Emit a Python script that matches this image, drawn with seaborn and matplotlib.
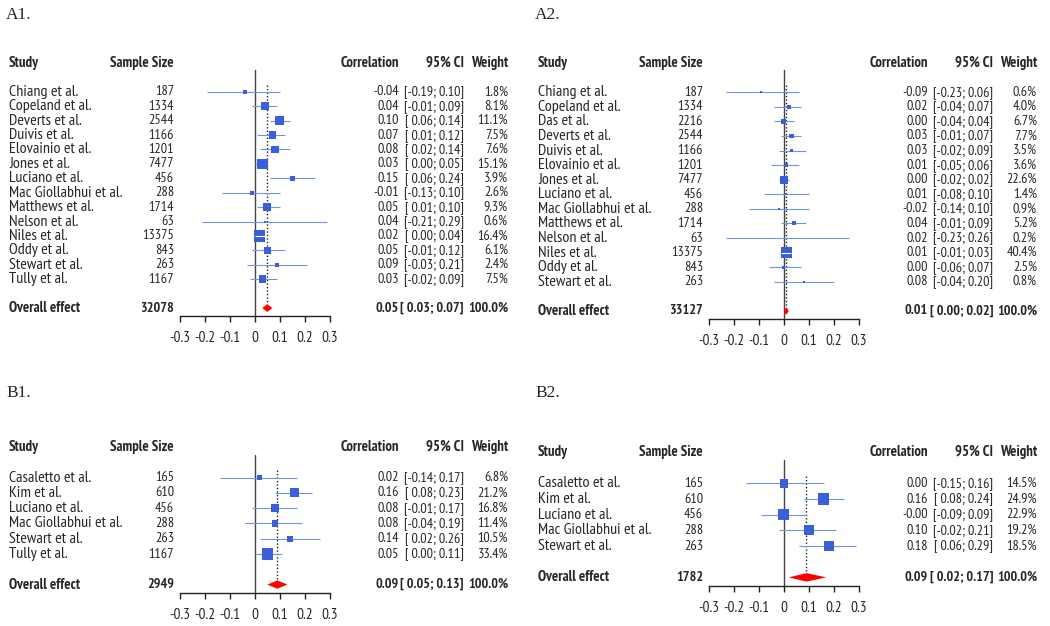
import numpy as np
import pandas as pd
import matplotlib
matplotlib.use('Agg')
import matplotlib.pyplot as plt
import matplotlib.transforms as mtransforms
import seaborn as sns

sns.set_style('white')
plt.rcParams['font.family'] = ['PT Sans Narrow', 'Liberation Sans', 'DejaVu Sans']

# ---- data ----
a1_study = ['Chiang et al.', 'Copeland et al.', 'Deverts et al.', 'Duivis et al.', 'Elovainio et al.',
            'Jones et al.', 'Luciano et al.', 'Mac Giollabhui et al.', 'Matthews et al.', 'Nelson et al.',
            'Niles et al.', 'Oddy et al.', 'Stewart et al.', 'Tully et al.']
a1_n = [187, 1334, 2544, 1166, 1201, 7477, 456, 288, 1714, 63, 13375, 843, 263, 1167]
a1_r = [-0.04, 0.04, 0.10, 0.07, 0.08, 0.03, 0.15, -0.01, 0.05, 0.04, 0.02, 0.05, 0.09, 0.03]
a1_lo = [-0.19, -0.01, 0.06, 0.01, 0.02, 0.00, 0.06, -0.13, 0.01, -0.21, 0.00, -0.01, -0.03, -0.02]
a1_hi = [0.10, 0.09, 0.14, 0.12, 0.14, 0.05, 0.24, 0.10, 0.10, 0.29, 0.04, 0.12, 0.21, 0.09]
a1_w = [1.8, 8.1, 11.1, 7.5, 7.6, 15.1, 3.9, 2.6, 9.3, 0.6, 16.4, 6.1, 2.4, 7.5]
a1_overall = (0.05, 0.03, 0.07)

a2_study = ['Chiang et al.', 'Copeland et al.', 'Das et al.', 'Deverts et al.', 'Duivis et al.',
            'Elovainio et al.', 'Jones et al.', 'Luciano et al.', 'Mac Giollabhui et al.', 'Matthews et al.',
            'Nelson et al.', 'Niles et al.', 'Oddy et al.', 'Stewart et al.']
a2_n = [187, 1334, 2216, 2544, 1166, 1201, 7477, 456, 288, 1714, 63, 13375, 843, 263]
a2_r = [-0.09, 0.02, 0.00, 0.03, 0.03, 0.01, 0.00, 0.01, -0.02, 0.04, 0.02, 0.01, 0.00, 0.08]
a2_lo = [-0.23, -0.04, -0.04, -0.01, -0.02, -0.05, -0.02, -0.08, -0.14, -0.01, -0.23, -0.01, -0.06, -0.04]
a2_hi = [0.06, 0.07, 0.04, 0.07, 0.09, 0.06, 0.02, 0.10, 0.10, 0.09, 0.26, 0.03, 0.07, 0.20]
a2_w = [0.6, 4.0, 6.7, 7.7, 3.5, 3.6, 22.6, 1.4, 0.9, 5.2, 0.2, 40.4, 2.5, 0.8]
a2_overall = (0.01, 0.00, 0.02)

b1_study = ['Casaletto et al.', 'Kim et al.', 'Luciano et al.', 'Mac Giollabhui et al.', 'Stewart et al.', 'Tully et al.']
b1_n = [165, 610, 456, 288, 263, 1167]
b1_r = [0.02, 0.16, 0.08, 0.08, 0.14, 0.05]
b1_lo = [-0.14, 0.08, -0.01, -0.04, 0.02, 0.00]
b1_hi = [0.17, 0.23, 0.17, 0.19, 0.26, 0.11]
b1_w = [6.8, 21.2, 16.8, 11.4, 10.5, 33.4]
b1_overall = (0.09, 0.05, 0.13)

b2_study = ['Casaletto et al.', 'Kim et al.', 'Luciano et al.', 'Mac Giollabhui et al.', 'Stewart et al.']
b2_n = [165, 610, 456, 288, 263]
b2_r = [0.00, 0.16, -0.0, 0.10, 0.18]
b2_lo = [-0.15, 0.08, -0.09, -0.02, 0.06]
b2_hi = [0.16, 0.24, 0.09, 0.21, 0.29]
b2_w = [14.5, 24.9, 22.9, 19.2, 18.5]
b2_overall = (0.09, 0.02, 0.17)

ticks = [-0.3, -0.2, -0.1, 0, 0.1, 0.2, 0.3]
tick_labels = ['-0.3', '-0.2', '-0.1', '0', '0.1', '0.2', '0.3']

W, H = 1050, 626
fig = plt.figure(figsize=(W / 100, H / 100), dpi=100)

box_col = '#3B5FD9'
line_col = '#7393E6'
fs_name = 11.5
fs_num = 10.2
fs_head = 10.6


def forest(label, study, n, r, lo, hi, w, overall, dx, top, bottom, label_y):
    k = len(study)
    ax_l, ax_r = 179.5 + dx, 330 + dx
    ax = fig.add_axes([ax_l / W, 1 - bottom / H, (ax_r - ax_l) / W, (bottom - top) / H])
    ax.set_xlim(-0.3, 0.3)
    ax.set_ylim(k + 2.55, -1)
    rows = np.arange(1, k + 1)
    df = pd.DataFrame({'study': study, 'n': n, 'r': r, 'lo': lo, 'hi': hi, 'w': w, 'row': rows})

    # confidence intervals
    ax.hlines(df['row'], df['lo'], df['hi'], color=line_col, lw=0.8, zorder=2)
    # boxes: area proportional to weight
    sns.scatterplot(data=df, x='r', y='row', size='w', sizes=(0, 64), size_norm=(0, df['w'].max()),
                    marker='s', color=box_col, edgecolor='none', legend=False, ax=ax, zorder=3)
    # white CI inside boxes that are wider than the interval
    half_box = 11 * np.sqrt(df['w'] / df['w'].max()) / 2 / 250
    inside = (df['r'] - df['lo'] < half_box) & (df['hi'] - df['r'] < half_box)
    ax.hlines(df.loc[inside, 'row'], df.loc[inside, 'lo'], df.loc[inside, 'hi'], color='white', lw=0.8, zorder=4)

    est, olo, ohi = overall
    yo = k + 2
    dh = 0.27
    ax.fill([olo, est, ohi, est], [yo, yo - dh, yo, yo + dh], color='red', lw=0, zorder=3)
    ax.plot([0, 0], [-0.5, k + 2.55], color='#444444', lw=1.0, zorder=1, clip_on=False)
    ax.plot([est, est], [0.5, yo - dh], color='#222222', lw=1.0, ls=(0, (1, 1.5)), zorder=1)

    for s in ['left', 'right', 'top']:
        ax.spines[s].set_visible(False)
    ax.spines['bottom'].set_color('#222222')
    ax.spines['bottom'].set_linewidth(1.0)
    ax.set_yticks([])
    ax.set_xticks(ticks)
    ax.set_xticklabels(tick_labels, fontsize=11)
    ax.tick_params(axis='x', direction='out', length=4.5, width=1.0, pad=6, bottom=True, color='#222222')
    ax.set_xlabel('')
    ax.set_ylabel('')

    tr = mtransforms.blended_transform_factory(fig.transFigure, ax.transData)
    cols = [9 + dx, 174 + dx, 399 + dx, 464 + dx, 508 + dx]
    xs = [c / W for c in cols]
    heads = ['Study', 'Sample Size', 'Correlation', '95% CI', 'Weight']
    for i, h in enumerate(heads):
        ax.text(xs[i], -1, h, transform=tr, ha='left' if i == 0 else 'right', va='center',
                fontsize=fs_head, fontweight='bold')
    for _, row in df.iterrows():
        y = row['row']
        ax.text(xs[0], y, row['study'], transform=tr, ha='left', va='center', fontsize=fs_name)
        vals = [f"{int(row['n'])}", f"{row['r']:.2f}",
                f"[{row['lo']:5.2f}; {row['hi']:.2f}]", f"{row['w']:.1f}%"]
        for i, v in enumerate(vals):
            ax.text(xs[i + 1], y, v, transform=tr, ha='right', va='center', fontsize=fs_num)
    ovals = ['Overall effect', f"{sum(n)}", f"{est:.2f}", f"[{olo:5.2f}; {ohi:.2f}]", '100.0%']
    for i, v in enumerate(ovals):
        ax.text(xs[i], yo, v, transform=tr, ha='left' if i == 0 else 'right', va='center',
                fontsize=fs_head if i == 0 else fs_num, fontweight='bold')

    fig.text((6 + dx) / W, 1 - label_y / H, label, ha='left', va='center', fontsize=12.5,
             family=['Liberation Serif', 'DejaVu Serif'])


forest('A1.', a1_study, a1_n, a1_r, a1_lo, a1_hi, a1_w, a1_overall, 0, 63, 316, 15)
forest('A2.', a2_study, a2_n, a2_r, a2_lo, a2_hi, a2_w, a2_overall, 529, 63, 319, 15)
forest('B1.', b1_study, b1_n, b1_r, b1_lo, b1_hi, b1_w, b1_overall, 0, 447, 593, 393)
forest('B2.', b2_study, b2_n, b2_r, b2_lo, b2_hi, b2_w, b2_overall, 529, 452, 586, 393)

fig.savefig('out.png', dpi=100, facecolor='white')
